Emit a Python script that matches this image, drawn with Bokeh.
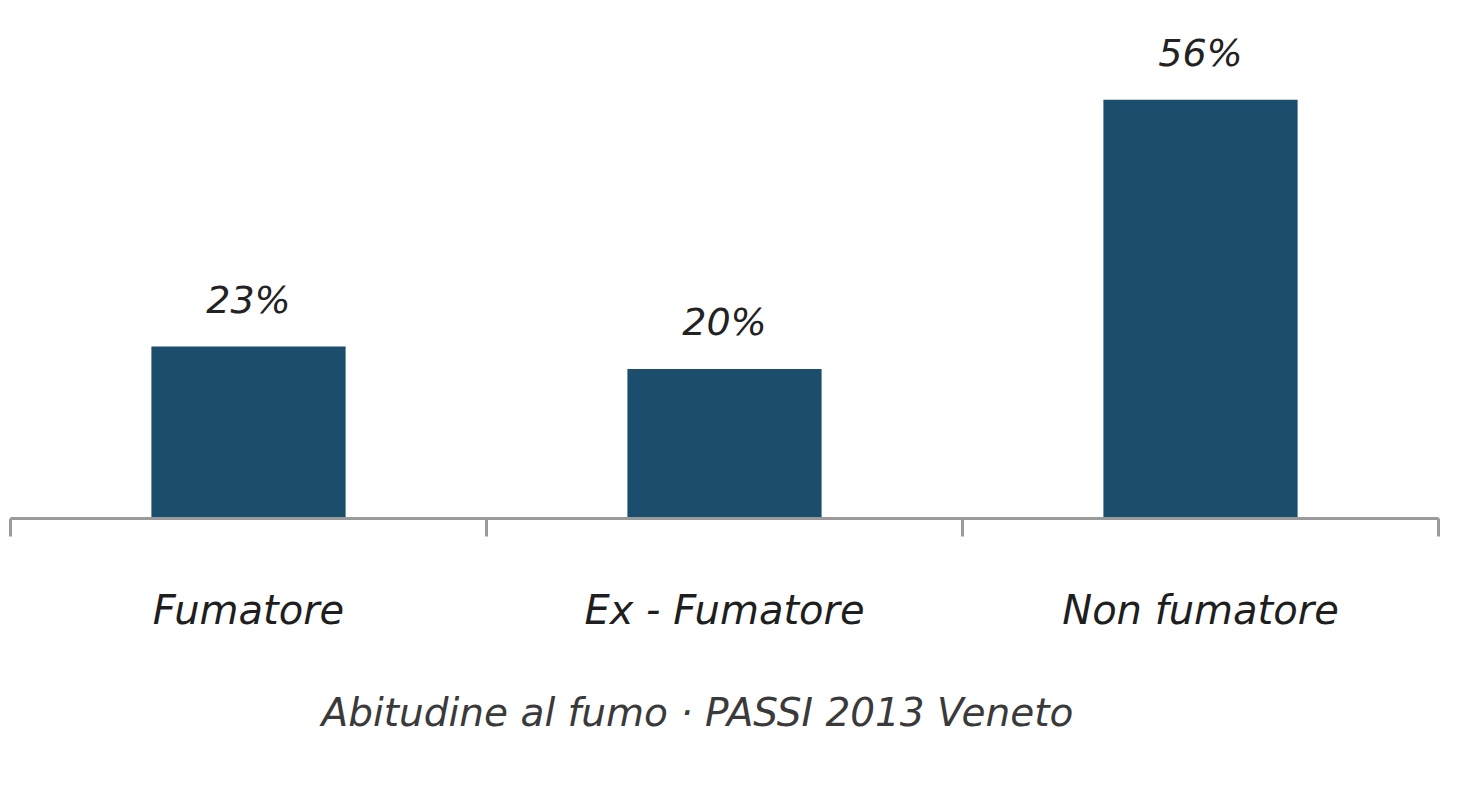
from bokeh.plotting import figure
from bokeh.models import ColumnDataSource, FixedTicker, LabelSet, Range1d, Title
from bokeh.core.properties import value
from bokeh.embed import file_html
from bokeh.resources import INLINE

categories = ["Fumatore", "Ex - Fumatore", "Non fumatore"]
values = [23, 20, 56]
value_labels = ["23%", "20%", "56%"]
chart_title = "Abitudine al fumo · PASSI 2013 Veneto"

xs = [i + 0.5 for i in range(len(categories))]
src = ColumnDataSource(dict(x=xs, top=values, lab=value_labels))

FONT = "DejaVu Sans"
BAR = "#1b4e6d"

p = figure(width=1442, height=786, output_backend="svg", toolbar_location=None,
           x_range=Range1d(0, len(categories)), y_range=Range1d(0, 68.2),
           min_border_left=10, min_border_right=4, min_border_top=8, min_border_bottom=268)
p.outline_line_color = None
p.background_fill_color = "white"
p.border_fill_color = "white"
p.grid.visible = False
p.yaxis.visible = False

p.vbar(x="x", top="top", width=0.408, bottom=0, source=src, fill_color=BAR, line_color=None)

labels = LabelSet(x="x", y="top", text="lab", source=src, text_align="center",
                  text_baseline="alphabetic", y_offset=34, text_font=value(FONT),
                  text_font_style="italic", text_font_size="38px", text_color="#222222")
p.add_layout(labels)

ax = p.xaxis[0]
ax.ticker = FixedTicker(ticks=xs, minor_ticks=[0, 1, 2, 3])
ax.major_label_overrides = {x: c for x, c in zip(xs, categories)}
ax.axis_line_color = "#9a9a9a"
ax.axis_line_width = 3
ax.major_tick_line_color = None
ax.major_tick_out = 0
ax.major_tick_in = 0
ax.minor_tick_line_color = "#9a9a9a"
ax.minor_tick_line_width = 3
ax.minor_tick_out = 18
ax.minor_tick_in = 0
ax.major_label_standoff = 50
ax.major_label_text_font = FONT
ax.major_label_text_font_style = "italic"
ax.major_label_text_font_size = "40px"
ax.major_label_text_color = "#1e1e1e"

t = Title(text=chart_title, align="left", offset=311, standoff=104,
          text_font=FONT, text_font_style="italic", text_font_size="39px",
          text_color="#3a3a3a")
p.add_layout(t, "below")

open("out.html", "w").write(file_html(p, INLINE))
